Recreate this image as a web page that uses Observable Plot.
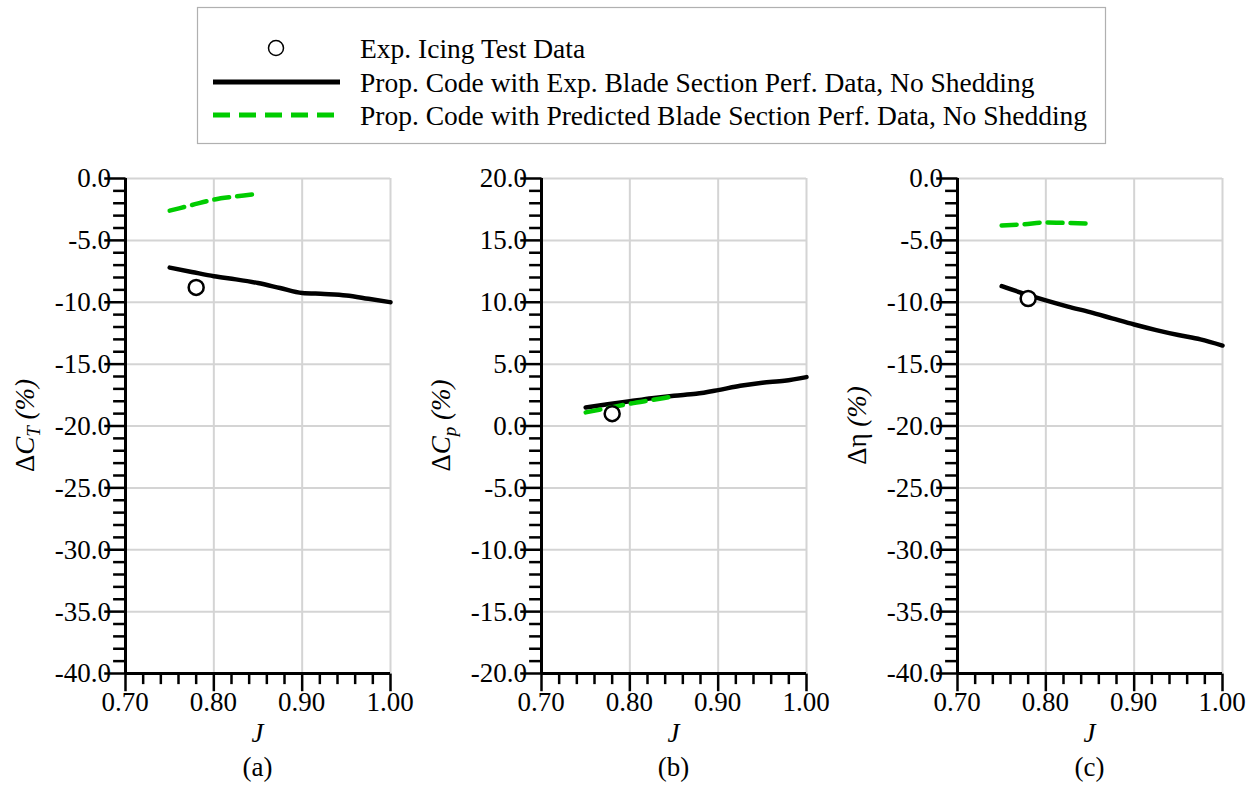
<!DOCTYPE html>
<html>
<head>
<meta charset="utf-8">
<script src="https://cdn.jsdelivr.net/npm/d3@7"></script>
<script src="https://cdn.jsdelivr.net/npm/@observablehq/plot@0.6"></script>
<style>
  html, body { margin: 0; padding: 0; background: #fff; }
  #root { position: relative; width: 1260px; height: 787px; overflow: hidden; font-family: "Liberation Serif", "DejaVu Serif", serif; }
  .abs { position: absolute; }
</style>
</head>
<body>
<div id="root"></div>
<script>
// ---------------- data ----------------
const legendLabels = [
  "Exp. Icing Test Data",
  "Prop. Code with Exp. Blade Section Perf. Data, No Shedding",
  "Prop. Code with Predicted Blade Section Perf. Data, No Shedding"
];
const panelTags = ["(a)", "(b)", "(c)"];
const xLabel = "J";
const xMajorTicks = [0.70, 0.80, 0.90, 1.00];

// experimental icing test points
const J_exp = [0.78];
const dCT_exp = [-8.8];
const dCP_exp = [1.0];
const dEta_exp = [-9.7];

// prop code with exp. blade section data (no shedding)
const J_expBlade = [0.75, 0.775, 0.80, 0.825, 0.85, 0.875, 0.90, 0.925, 0.95, 0.975, 1.00];
const dCT_expBlade = [-7.2, -7.55, -7.9, -8.15, -8.45, -8.85, -9.25, -9.33, -9.45, -9.72, -10.0];
const dCP_expBlade = [1.5, 1.75, 2.0, 2.25, 2.45, 2.6, 2.9, 3.25, 3.5, 3.65, 3.95];
const dEta_expBlade = [-8.7, -9.3, -9.85, -10.35, -10.8, -11.3, -11.8, -12.25, -12.65, -13.0, -13.5];

// prop code with predicted blade section data (no shedding)
const J_predBlade = [0.75, 0.775, 0.80, 0.825, 0.85];
const dCT_predBlade = [-2.6, -2.15, -1.7, -1.45, -1.25];
const dCP_predBlade = [1.1, 1.45, 1.8, 2.1, 2.4];
const dEta_predBlade = [-3.8, -3.7, -3.55, -3.6, -3.65];

// ---------------- helpers ----------------
const GREEN = "#00cc00";
const GRID = "#d4d4d4";
const FONT = "Liberation Serif";
const FS = 27;
const TOP = 150;               // page offset of the panel SVGs
const zip = (xs, ys) => xs.map((x, i) => ({x, y: ys[i]}));
const range = (a, b, s) => d3.range(Math.round((b - a) / s) + 1).map(i => +(a + i * s).toFixed(6));

// custom tick symbols: a short stroke pointing left / down, length = sqrt(size)
const tickLeft = {draw(ctx, size) { const l = Math.sqrt(size); ctx.moveTo(0, 0); ctx.lineTo(-l, 0); }};
const tickDown = {draw(ctx, size) { const l = Math.sqrt(size); ctx.moveTo(0, 0); ctx.lineTo(0, l); }};

const root = document.getElementById("root");
const panels = [];

function panel({left, domain, ylabel, tag, exp, expBlade, predBlade}) {
  const yMajor = range(domain[0], domain[1], 5);
  const yMinor = range(domain[0], domain[1], 1).filter(v => !yMajor.some(m => Math.abs(m - v) < 1e-9));
  const xMinor = range(0.70, 1.00, 0.02).filter(v => !xMajorTicks.some(m => Math.abs(m - v) < 1e-9));
  const x0 = 0.70, y0 = domain[0];
  const tk = {stroke: "black", strokeWidth: 2.5, fill: "none"};
  const svg = Plot.plot({
    width: 420,
    height: 637,
    marginLeft: 125,
    marginRight: 30,
    marginTop: 28,
    marginBottom: 114,
    style: {background: "transparent", overflow: "visible"},
    x: {domain: [0.70, 1.00], axis: null},
    y: {domain, axis: null},
    marks: [
      Plot.ruleX(xMajorTicks.slice(1), {stroke: GRID, strokeWidth: 2}),
      Plot.ruleY(yMajor.slice(1), {stroke: GRID, strokeWidth: 2}),
      // tick marks (outward)
      Plot.dot(yMinor, {x: () => x0, y: d => d, symbol: tickLeft, r: 7, ...tk}),
      Plot.dot(yMajor, {x: () => x0, y: d => d, symbol: tickLeft, r: 12, ...tk}),
      Plot.dot(xMinor, {x: d => d, y: () => y0, symbol: tickDown, r: 6, ...tk}),
      Plot.dot(xMajorTicks, {x: d => d, y: () => y0, symbol: tickDown, r: 10, ...tk}),
      // axis lines
      Plot.ruleX([x0], {stroke: "black", strokeWidth: 3}),
      Plot.ruleY([y0], {stroke: "black", strokeWidth: 3}),
      // data
      Plot.line(expBlade, {x: "x", y: "y", stroke: "black", strokeWidth: 4.5, curve: "monotone-x"}),
      Plot.line(predBlade, {x: "x", y: "y", stroke: GREEN, strokeWidth: 4.5, strokeDasharray: "15,8", curve: "monotone-x"}),
      Plot.dot(exp, {x: "x", y: "y", r: 7.5, stroke: "black", strokeWidth: 2.5, fill: "white"})
    ]
  });
  svg.classList.add("abs");
  svg.style.left = left + "px";
  svg.style.top = TOP + "px";
  root.appendChild(svg);
  panels.push({left, svg, yMajor, ylabel, tag});
}

panel({
  left: 0, domain: [-40, 0], tag: panelTags[0],
  ylabel: [{t: "Δ"}, {t: "C", i: true}, {t: "T", i: true, fs: 19, dy: 6}, {t: " (%)", i: true, dy: -6}],
  exp: zip(J_exp, dCT_exp), expBlade: zip(J_expBlade, dCT_expBlade), predBlade: zip(J_predBlade, dCT_predBlade)
});
panel({
  left: 416, domain: [-20, 20], tag: panelTags[1],
  ylabel: [{t: "Δ"}, {t: "C", i: true}, {t: "p", i: true, fs: 19, dy: 6}, {t: " (%)", i: true, dy: -6}],
  exp: zip(J_exp, dCP_exp), expBlade: zip(J_expBlade, dCP_expBlade), predBlade: zip(J_predBlade, dCP_predBlade)
});
panel({
  left: 832, domain: [-40, 0], tag: panelTags[2],
  ylabel: [{t: "Δη"}, {t: " (%)", i: true}],
  exp: zip(J_exp, dEta_exp), expBlade: zip(J_expBlade, dEta_expBlade), predBlade: zip(J_predBlade, dEta_predBlade)
});

// ---------------- text overlay (positions from each plot's own scales) ----------------
const ov = d3.select(root).append("svg")
  .attr("class", "abs").style("left", "0px").style("top", "0px")
  .style("pointer-events", "none")
  .attr("width", 1260).attr("height", 787)
  .attr("font-family", FONT).attr("font-size", FS).attr("fill", "black");

panels.forEach(p => {
  const sx = p.svg.scale("x"), sy = p.svg.scale("y");
  const frameLeft = p.left + sx.apply(0.70);
  const frameBottom = TOP + d3.max(sy.range);
  const frameMidY = TOP + d3.mean(sy.range);
  const frameMidX = p.left + d3.mean(sx.range);
  // y tick labels
  ov.append("g").attr("text-anchor", "end")
    .selectAll("text").data(p.yMajor).join("text")
    .attr("x", frameLeft - 14)
    .attr("y", d => TOP + sy.apply(d)).attr("dy", "0.35em")
    .text(d => d.toFixed(1));
  // x tick labels
  ov.append("g").attr("text-anchor", "middle")
    .selectAll("text").data(xMajorTicks).join("text")
    .attr("x", d => p.left + sx.apply(d))
    .attr("y", frameBottom + 29).attr("dy", "0.35em")
    .text(d3.format(".2f"));
  // x label and panel tag
  ov.append("text").attr("text-anchor", "middle").attr("font-style", "italic")
    .attr("x", frameMidX).attr("y", frameBottom + 60).attr("dy", "0.35em").text(xLabel);
  ov.append("text").attr("text-anchor", "middle")
    .attr("x", frameMidX).attr("y", frameBottom + 94).attr("dy", "0.35em").text(p.tag);
  // y label with italic / subscript
  const yl = ov.append("text").attr("text-anchor", "middle")
    .attr("transform", `translate(${frameLeft - 100},${frameMidY}) rotate(-90)`)
    .attr("dy", "0.35em");
  p.ylabel.forEach(part => {
    const ts = yl.append("tspan").text(part.t);
    if (part.i) ts.attr("font-style", "italic");
    if (part.fs) ts.attr("font-size", part.fs);
    if (part.dy) ts.attr("dy", part.dy);
  });
});

// ---------------- legend ----------------
const leg = d3.select(root).append("svg")
  .attr("class", "abs").style("left", "0px").style("top", "0px")
  .attr("width", 1260).attr("height", 150)
  .attr("font-family", FONT);
leg.append("rect").attr("x", 197.5).attr("y", 7.5).attr("width", 908).attr("height", 136)
  .attr("fill", "white").attr("stroke", "#b0b0b0").attr("stroke-width", 1.2);
const rowsY = [48, 82, 115];
leg.append("circle").attr("cx", 276).attr("cy", rowsY[0]).attr("r", 7.5)
  .attr("fill", "white").attr("stroke", "black").attr("stroke-width", 1.5);
leg.append("line").attr("x1", 213).attr("x2", 340).attr("y1", rowsY[1]).attr("y2", rowsY[1])
  .attr("stroke", "black").attr("stroke-width", 5);
leg.append("line").attr("x1", 213).attr("x2", 340).attr("y1", rowsY[2]).attr("y2", rowsY[2])
  .attr("stroke", GREEN).attr("stroke-width", 5).attr("stroke-dasharray", "17,9");
leg.selectAll("text.lab").data(legendLabels).join("text")
  .attr("class", "lab")
  .attr("x", 360).attr("y", (d, i) => rowsY[i]).attr("dy", "0.35em")
  .attr("font-size", 27.5).attr("fill", "black")
  .text(d => d);
</script>
</body>
</html>
